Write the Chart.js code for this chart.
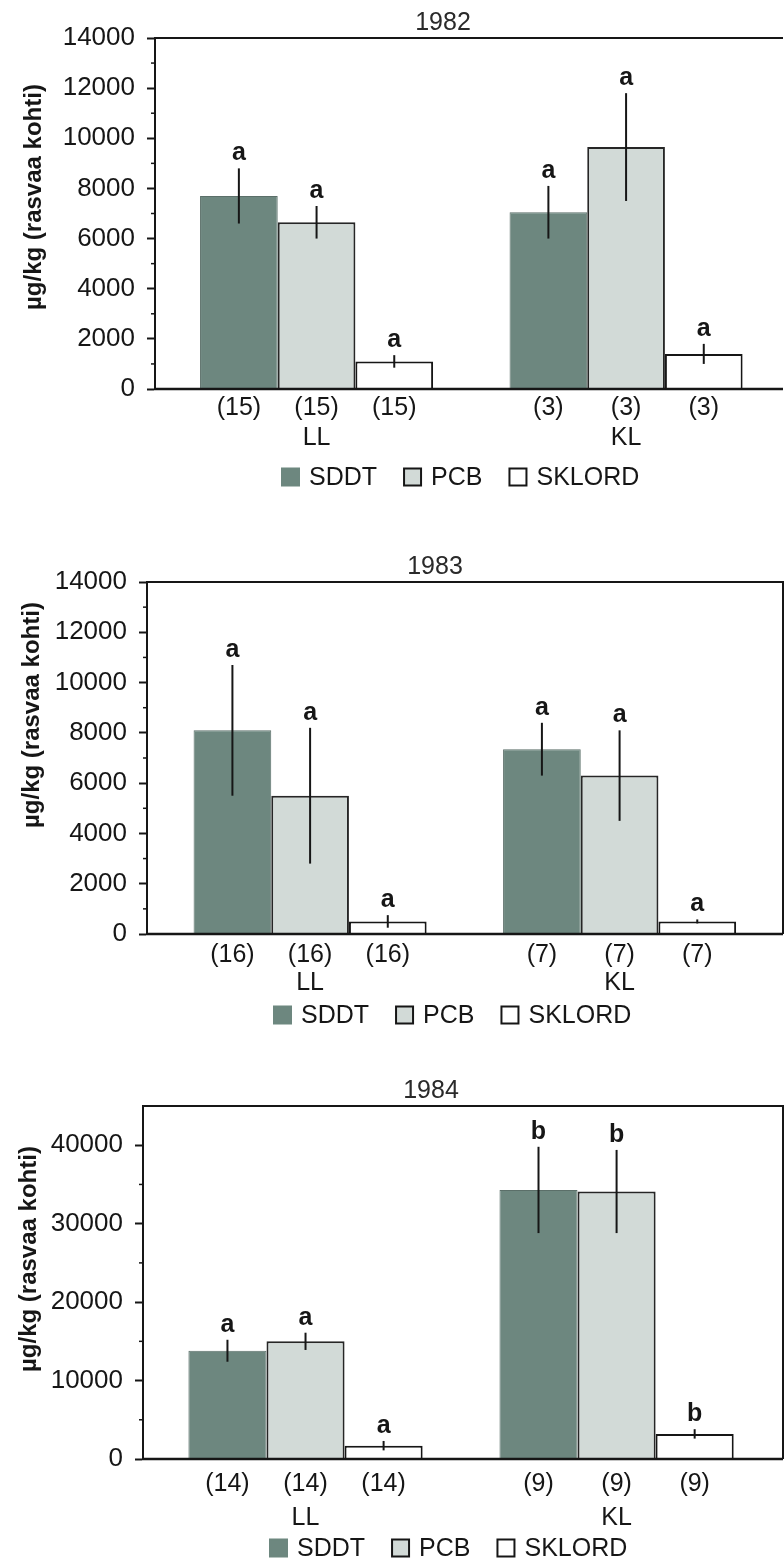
<!DOCTYPE html>
<html>
<head>
<meta charset="utf-8">
<title>SDDT, PCB ja SKLORD 1982–1984</title>
<script src="https://cdn.jsdelivr.net/npm/chart.js@4.4.1/dist/chart.umd.min.js"></script>
<style>
  html, body { margin: 0; padding: 0; background: #fff; }
  #page { position: relative; width: 784px; height: 1565px; overflow: hidden; }
  #page canvas { position: absolute; left: 0; }
</style>
</head>
<body>
<div id="page">
  <canvas id="chart1982" width="784" height="500" style="top:0"></canvas>
  <canvas id="chart1983" width="784" height="540" style="top:500px"></canvas>
  <canvas id="chart1984" width="784" height="525" style="top:1040px"></canvas>
</div>
<script>
const groups = ['LL', 'KL'];
const seriesNames = ['SDDT', 'PCB', 'SKLORD'];

// 1982
const n1982 = [15, 3];
const sig1982 = ['a', 'a'];
const ticks1982 = [0, 2000, 4000, 6000, 8000, 10000, 12000, 14000];
const sddt1982 = [7700, 7050];
const sddtErr1982 = [1100, 1050];
const pcb1982 = [6650, 9650];
const pcbErr1982 = [650, 2150];
const sklord1982 = [1100, 1400];
const sklordErr1982 = [250, 400];

// 1983
const n1983 = [16, 7];
const sig1983 = ['a', 'a'];
const ticks1983 = [0, 2000, 4000, 6000, 8000, 10000, 12000, 14000];
const sddt1983 = [8100, 7350];
const sddtErr1983 = [2600, 1050];
const pcb1983 = [5500, 6300];
const pcbErr1983 = [2700, 1800];
const sklord1983 = [500, 500];
const sklordErr1983 = [250, 80];

// 1984
const n1984 = [14, 9];
const sig1984 = ['a', 'b'];
const ticks1984 = [0, 10000, 20000, 30000, 40000];
const sddt1984 = [13800, 34300];
const sddtErr1984 = [1400, 5500];
const pcb1984 = [15000, 34100];
const pcbErr1984 = [1100, 5300];
const sklord1984 = [1700, 3200];
const sklordErr1984 = [600, 600];

const yTitle = 'µg/kg (rasvaa kohti)';

const FONT = '"Liberation Sans", Arial, Helvetica, sans-serif';
const INK = '#161616';
const fills = ['#6d877f', '#d2dad7', '#ffffff'];
const edges = ['#5b6f69', '#262626', '#161616'];

const panels = [
  {
    id: 'chart1982', year: '1982', max: 14000, minor: 1000, ticks: ticks1982,
    axisX: 155, padTop: 38, padBottom: 111, xMin: -0.522, xMax: 1.507,
    rightEdge: false, countY: 19, groupY: 49, legendY: 88, yTitleX: 34, yTitleFrom: 79,
    counts: n1982, sig: sig1982,
    values: [sddt1982, pcb1982, sklord1982],
    errors: [sddtErr1982, pcbErr1982, sklordErr1982]
  },
  {
    id: 'chart1983', year: '1983', max: 14000, minor: 1000, ticks: ticks1983,
    axisX: 147, padTop: 82, padBottom: 106, xMin: -0.527, xMax: 1.528,
    rightEdge: true, countY: 21, groupY: 49, legendY: 81, yTitleX: 32, yTitleFrom: 106,
    counts: n1983, sig: sig1983,
    values: [sddt1983, pcb1983, sklord1983],
    errors: [sddtErr1983, pcbErr1983, sklordErr1983]
  },
  {
    id: 'chart1984', year: '1984', max: 45000, minor: 5000, ticks: ticks1984,
    axisX: 143, padTop: 66, padBottom: 106, xMin: -0.5225, xMax: 1.535,
    rightEdge: true, countY: 25, groupY: 59, legendY: 89, yTitleX: 29, yTitleFrom: 87,
    counts: n1984, sig: sig1984,
    values: [sddt1984, pcb1984, sklord1984],
    errors: [sddtErr1984, pcbErr1984, sklordErr1984]
  }
];

// frame, minor ticks, error bars, letters, counts, labels, title and legend
const decorPlugin = {
  id: 'decor',
  afterDraw(chart, args, p) {
    const ctx = chart.ctx;
    const { left, right, top, bottom } = chart.chartArea;
    const y = chart.scales.y;
    const x = chart.scales.x;
    ctx.save();
    ctx.strokeStyle = INK;
    ctx.fillStyle = INK;

    ctx.lineWidth = 2;
    ctx.beginPath();
    ctx.moveTo(left, top);
    ctx.lineTo(right, top);
    if (p.rightEdge) ctx.lineTo(right, bottom);
    ctx.stroke();

    ctx.lineWidth = 2.5;
    ctx.beginPath();
    ctx.moveTo(left - 1, bottom);
    ctx.lineTo(right, bottom);
    ctx.stroke();

    ctx.lineWidth = 1.5;
    for (let v = p.minor; v < p.max; v += p.minor) {
      if (p.ticks.includes(v)) continue;
      const py = y.getPixelForValue(v);
      ctx.beginPath();
      ctx.moveTo(left - 4, py);
      ctx.lineTo(left, py);
      ctx.stroke();
    }

    ctx.textAlign = 'center';
    chart.data.datasets.forEach((ds, di) => {
      chart.getDatasetMeta(di).data.forEach((bar, i) => {
        const v = ds.data[i].y;
        const e = ds.errors[i];
        const yHi = y.getPixelForValue(v + e);
        const yLo = y.getPixelForValue(v - e);
        ctx.lineWidth = 2;
        ctx.beginPath();
        ctx.moveTo(bar.x, yLo);
        ctx.lineTo(bar.x, yHi);
        ctx.stroke();

        ctx.font = 'bold 25px ' + FONT;
        ctx.textBaseline = 'alphabetic';
        ctx.fillText(p.sig[i], bar.x, yHi - 8);

        ctx.font = '25px ' + FONT;
        ctx.textBaseline = 'middle';
        ctx.fillText('(' + p.counts[i] + ')', bar.x, bottom + p.countY);
      });
    });

    ctx.font = '25px ' + FONT;
    ctx.textBaseline = 'middle';
    groups.forEach((g, i) => ctx.fillText(g, x.getPixelForValue(i), bottom + p.groupY));

    ctx.fillStyle = '#2a2a2a';
    ctx.fillText(p.year, left + 288, top - 15);
    ctx.fillStyle = INK;

    ctx.save();
    ctx.font = 'bold 24px ' + FONT;
    ctx.translate(p.yTitleX, bottom - p.yTitleFrom);
    ctx.rotate(-Math.PI / 2);
    ctx.textAlign = 'left';
    ctx.fillText(yTitle, 0, 0);
    ctx.restore();

    // legend row
    ctx.font = '25px ' + FONT;
    ctx.textAlign = 'left';
    const ly = bottom + p.legendY;
    let lx = left + 127;
    seriesNames.forEach((name, s) => {
      ctx.fillStyle = fills[s];
      ctx.fillRect(lx, ly - 8.5, 17, 17);
      ctx.lineWidth = 2;
      ctx.strokeStyle = s === 0 ? fills[0] : INK;
      ctx.strokeRect(lx, ly - 8.5, 17, 17);
      ctx.fillStyle = INK;
      ctx.fillText(name, lx + 27, ly + 1);
      lx += 27 + ctx.measureText(name).width + 27;
    });

    ctx.restore();
  }
};

function buildChart(p) {
  const datasets = seriesNames.map((name, s) => ({
    label: name,
    data: p.values[s].map((v, i) => ({ x: i, y: v })),
    errors: p.errors[s],
    backgroundColor: fills[s],
    borderColor: edges[s],
    borderWidth: s === 0 ? 1 : 2,
    barPercentage: 1,
    categoryPercentage: 0.753
  }));

  return new Chart(document.getElementById(p.id), {
    type: 'bar',
    data: { datasets },
    options: {
      responsive: false,
      animation: false,
      devicePixelRatio: 1,
      layout: { padding: { top: p.padTop, bottom: p.padBottom, left: 0, right: 1 } },
      plugins: {
        legend: { display: false },
        tooltip: { enabled: false },
        decor: p
      },
      scales: {
        x: {
          type: 'linear',
          display: false,
          offset: false,
          grid: { offset: false },
          min: p.xMin,
          max: p.xMax,
          ticks: { stepSize: 1, includeBounds: false }
        },
        y: {
          min: 0,
          max: p.max,
          afterBuildTicks(scale) {
            scale.ticks = p.ticks.map(v => ({ value: v }));
          },
          ticks: {
            padding: 12,
            color: INK,
            font: { family: FONT, size: 26 },
            callback: v => String(v)
          },
          grid: { drawOnChartArea: false, tickLength: 8, tickWidth: 2, tickColor: INK },
          border: { color: INK, width: 2 },
          afterFit(scale) { scale.width = p.axisX; }
        }
      }
    },
    plugins: [decorPlugin]
  });
}

panels.forEach(buildChart);
</script>
</body>
</html>
